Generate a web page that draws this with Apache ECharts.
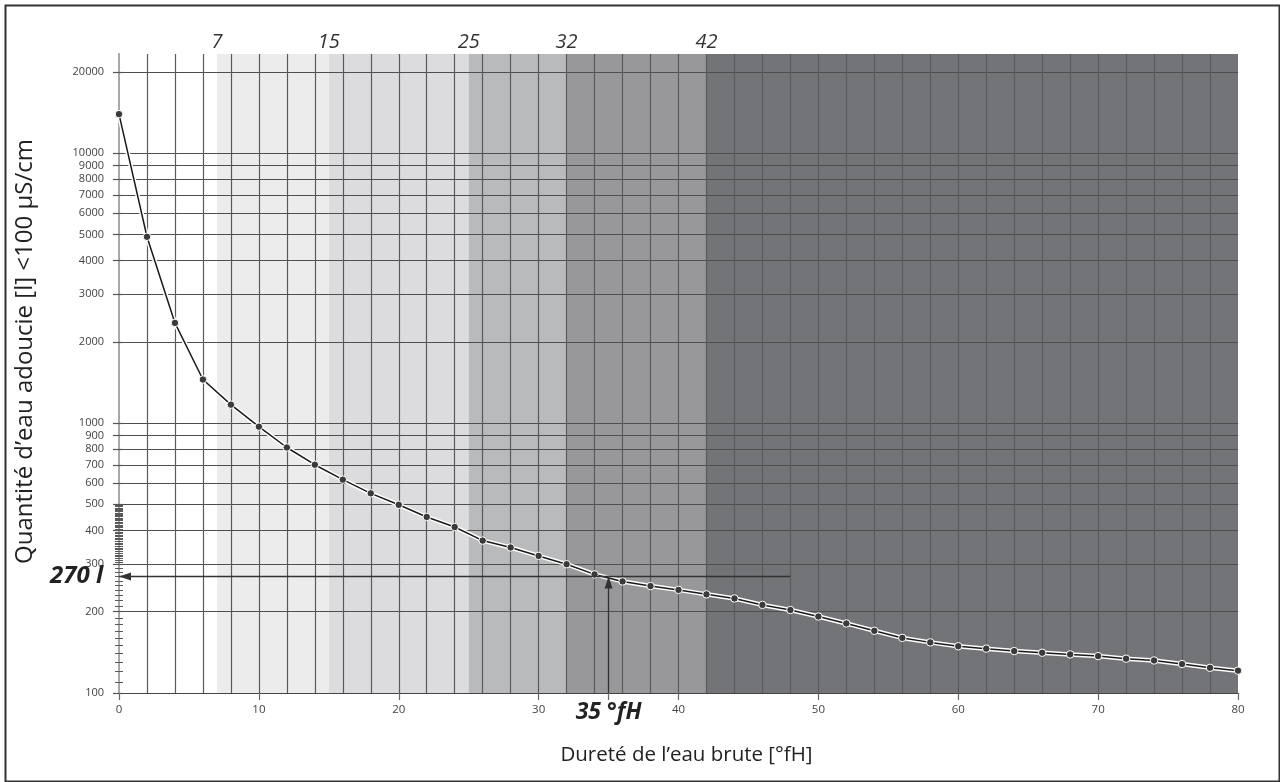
<!DOCTYPE html>
<html><head><meta charset="utf-8">
<script src="https://cdn.jsdelivr.net/npm/echarts@6/dist/echarts.min.js"></script>
<style>html,body{margin:0;padding:0;background:#fff}#chart{width:1280px;height:782px}</style>
</head><body><div id="chart"></div>
<script>
// ---- data ----
const hardness = [0,2,4,6,8,10,12,14,16,18,20,22,24,26,28,30,32,34,36,38,40,42,44,46,48,50,52,54,56,58,60,62,64,66,68,70,72,74,76,78,80];
const volume = [13950,4900,2350,1450,1170,970,812,701,617,549,498,449,412,367,346,322,300,275,259,249,241,232,224,212,203,192,181,170,160,154,149,146,143,141,139,137,134,132,128,124,121];
const yTickValues = [100,200,300,400,500,600,700,800,900,1000,2000,3000,4000,5000,6000,7000,8000,9000,10000,20000];
const yMinorTicks = [110,120,130,140,150,160,170,180,190,210,220,230,240,250,260,270,280,290,
  305,310,315,320,325,330,335,340,345,350,355,360,365,370,375,380,385,390,395,400,
  405,410,415,420,425,430,435,440,445,450,455,460,465,470,475,480,485,490,495];
const xLabelValues = [0,10,20,30,40,50,60,70,80];
const zoneStarts = [7,15,25,32,42];
const zoneEnds = [15,25,32,42,80];
const zoneColors = ['#ececec','#dcdcde','#b9babc','#98989b','#737478'];
const refHardness = 35;
const refVolume = 270;
const refLineEnd = 48;
const xTitle = 'Dureté de l’eau brute [°fH]';
const yTitle = 'Quantité d’eau adoucie [l] <100 µS/cm';

const X_MIN = 0, X_MAX = 80, Y_MIN = 100, Y_MAX = 23300;
const FONT = '"Open Sans", "Noto Sans", sans-serif';

const curve = hardness.map((h, i) => [h, volume[i]]);
const zones = zoneStarts.map((s, i) => [s, zoneEnds[i], Y_MIN, Y_MAX, i]);

const chart = echarts.init(document.getElementById('chart'), null, {renderer: 'canvas'});

const logAxisBase = {
  type: 'log', logBase: 10, min: Y_MIN, max: Y_MAX, gridIndex: 0
};
const plainNum = v => String(v);

const option = {
  animation: false,
  backgroundColor: '#fff',
  textStyle: {fontFamily: FONT},
  grid: {left: 119, right: 42, top: 54, bottom: 89, containLabel: false},
  xAxis: [
    {
      type: 'value', min: X_MIN, max: X_MAX, interval: 2, position: 'bottom',
      axisLine: {show: true, onZero: false, lineStyle: {color: '#444', width: 1.2}},
      axisTick: {show: false},
      axisLabel: {customValues: xLabelValues, fontSize: 11.5, color: '#444', margin: 11, fontFamily: FONT, formatter: plainNum},
      splitLine: {show: true, showMinLine: false, showMaxLine: false, lineStyle: {color: '#5a5a5a', width: 1.2}},
      name: xTitle, nameLocation: 'middle', nameGap: 52,
      nameTextStyle: {fontSize: 20.5, color: '#222', fontFamily: FONT, padding: [0, 0, 0, 16]}
    },
    {
      type: 'value', min: X_MIN, max: X_MAX, position: 'bottom',
      axisLine: {show: false},
      axisTick: {show: true, customValues: xLabelValues.concat([refHardness]), length: 7, lineStyle: {color: '#666', width: 1.2}},
      axisLabel: {show: false}, splitLine: {show: false}
    },
    {
      type: 'value', min: X_MIN, max: X_MAX, position: 'top',
      axisLine: {show: false}, axisTick: {show: false}, splitLine: {show: false},
      axisLabel: {customValues: zoneStarts, fontSize: 20, fontStyle: 'italic', color: '#333', margin: 2, fontFamily: FONT}
    }
  ],
  yAxis: [
    Object.assign({}, logAxisBase, {
      position: 'left',
      axisLine: {show: true, onZero: false, lineStyle: {color: '#8c8c8c', width: 1.5}},
      axisTick: {show: true, customValues: yTickValues, length: 6, lineStyle: {color: '#555', width: 1.2}},
      axisLabel: {customValues: yTickValues, fontSize: 11, color: '#444', margin: 15, fontFamily: FONT, formatter: plainNum},
      splitLine: {show: true, showMinLine: false, lineStyle: {color: '#4e4e4e', width: 1.2}},
      name: yTitle, nameLocation: 'middle', nameGap: 82,
      nameTextStyle: {fontSize: 24, color: '#222', fontFamily: FONT, padding: [0, 0, 0, 44]}
    }),
    Object.assign({}, logAxisBase, {
      position: 'left', offset: 0,
      axisLine: {show: false},
      axisTick: {show: true, customValues: yMinorTicks, length: 4, inside: false, lineStyle: {color: '#5a5a5a', width: 1}},
      axisLabel: {show: false}, splitLine: {show: false}
    }),
    Object.assign({}, logAxisBase, {
      position: 'left', offset: 0,
      axisLine: {show: false},
      axisTick: {show: true, customValues: yMinorTicks, length: 4, inside: true, lineStyle: {color: '#5a5a5a', width: 1}},
      axisLabel: {show: false}, splitLine: {show: false}
    }),
    Object.assign({}, logAxisBase, {
      position: 'right', offset: 0,
      axisLine: {show: true, lineStyle: {color: '#a8a8a8', width: 2}},
      axisTick: {show: true, customValues: yTickValues, length: 4, lineStyle: {color: '#555', width: 1.2}},
      axisLabel: {show: false}, splitLine: {show: false}
    })
  ],
  series: [
    {
      type: 'custom', name: 'zones', z: -1, silent: true,
      xAxisIndex: 0, yAxisIndex: 0,
      encode: {x: [0, 1], y: [2, 3]},
      data: zones,
      renderItem: function (params, api) {
        const p0 = api.coord([api.value(0), api.value(3)]);
        const p1 = api.coord([api.value(1), api.value(2)]);
        return {
          type: 'rect',
          shape: {x: p0[0], y: p0[1], width: p1[0] - p0[0], height: p1[1] - p0[1]},
          style: {fill: zoneColors[api.value(4)]}
        };
      }
    },
    {
      type: 'line', name: 'halo', data: curve, silent: true,
      xAxisIndex: 0, yAxisIndex: 0, z: 3,
      symbol: 'none',
      lineStyle: {color: '#ffffff', width: 4.5}
    },
    {
      type: 'line', name: 'curve', data: curve,
      xAxisIndex: 0, yAxisIndex: 0, z: 4,
      symbol: 'circle', symbolSize: 7.5,
      itemStyle: {color: '#3a3a3a', borderColor: '#ffffff', borderWidth: 1},
      lineStyle: {color: '#1a1a1a', width: 1.5},
      markLine: {
        silent: true, animation: false,
        symbol: ['none', 'triangle'], symbolSize: [8, 12],
        symbolOffset: [[0, 0], [0, 6]],
        lineStyle: {color: '#333', width: 1.3, type: 'solid'},
        data: [
          [
            {coord: [refHardness, Y_MIN],
             label: {show: true, position: 'start', formatter: refHardness + ' °fH', distance: 8,
                     fontSize: 23, fontWeight: 'bold', fontStyle: 'italic', color: '#222', fontFamily: FONT}},
            {coord: [refHardness, refVolume]}
          ],
          [
            {coord: [refHardness, refVolume],
             label: {show: true, position: 'end', formatter: refVolume + ' l', distance: 16,
                     fontSize: 24, fontWeight: 'bold', fontStyle: 'italic', color: '#222', fontFamily: FONT,
                     padding: [6, 0, 0, 0]}},
            {coord: [X_MIN, refVolume]}
          ],
          [
            {coord: [refHardness, refVolume], symbol: 'none', label: {show: false}},
            {coord: [refLineEnd, refVolume], symbol: 'none'}
          ]
        ]
      }
    }
  ],
  graphic: [
    {type: 'rect', left: 3, top: 3, silent: true, z: 100,
     shape: {width: 1274, height: 776},
     style: {fill: 'none', stroke: '#333', lineWidth: 2}}
  ]
};
chart.setOption(option);
</script>
</body></html>
